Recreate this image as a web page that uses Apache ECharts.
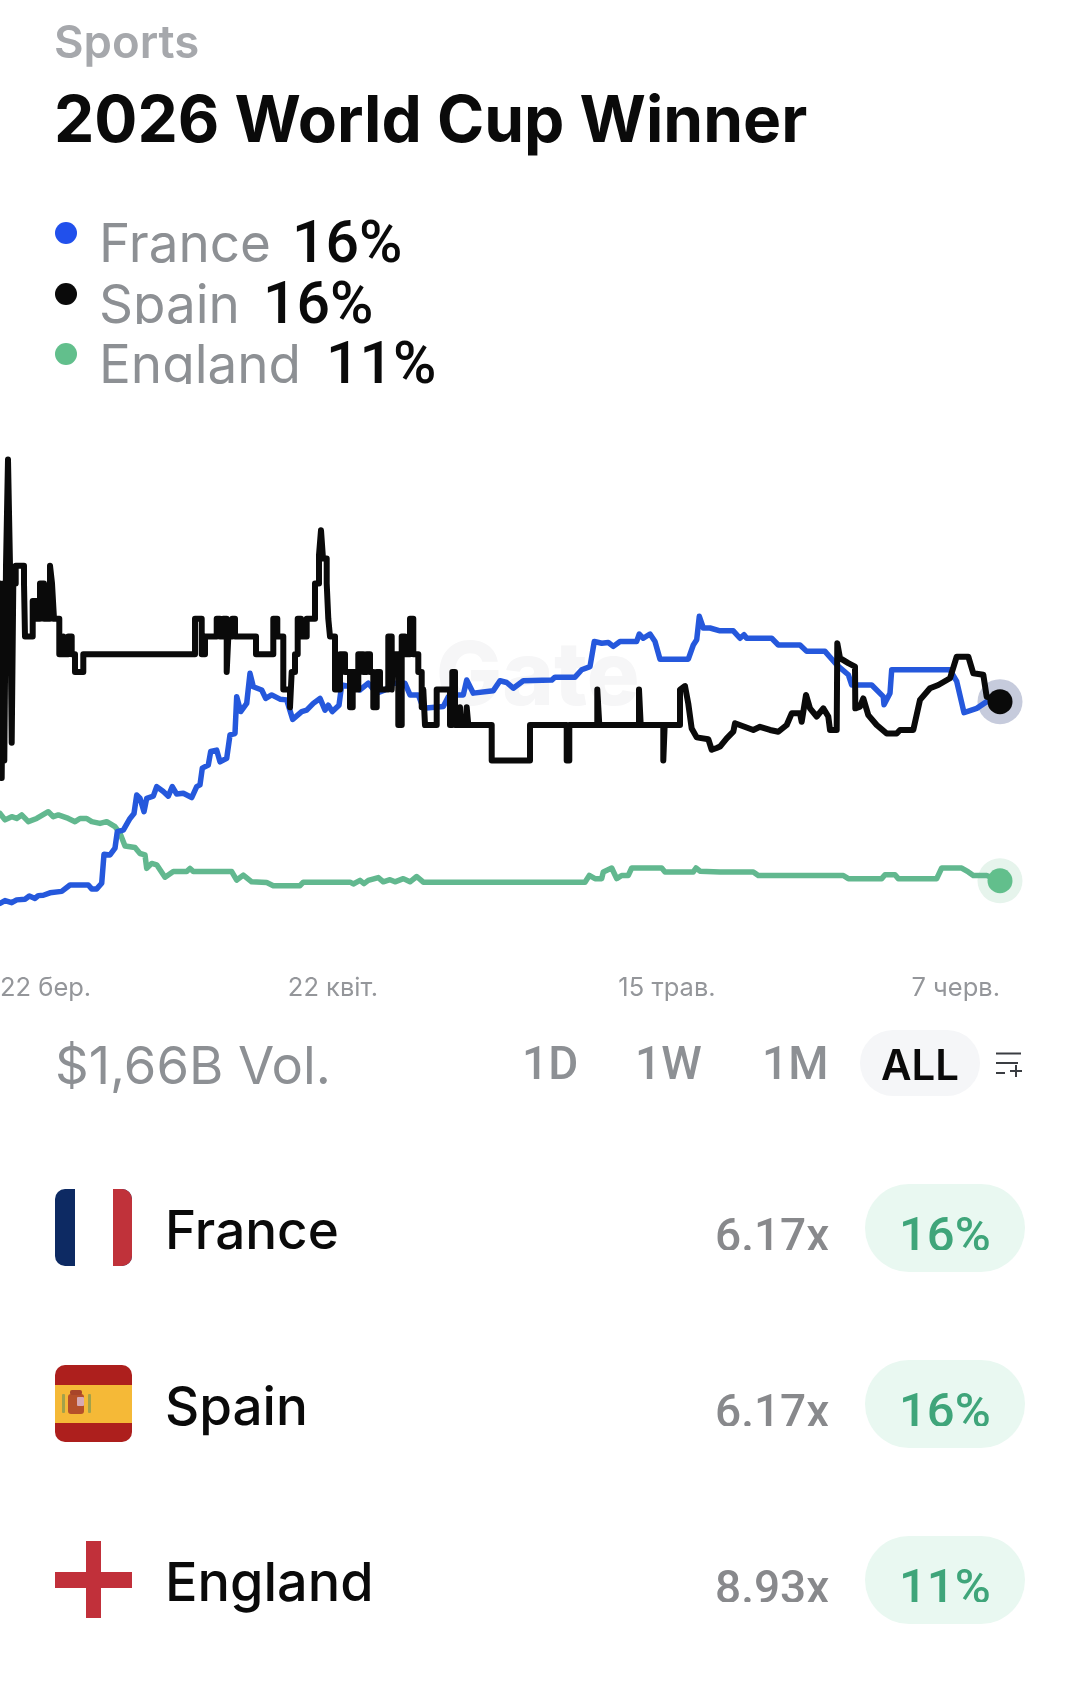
<!DOCTYPE html>
<html><head><meta charset="utf-8">
<style>html,body{margin:0;padding:0;background:#fff}#c{width:1080px;height:1695px}</style>
<script src="https://cdn.jsdelivr.net/npm/echarts@6/dist/echarts.min.js"></script>
</head><body><div id="c"></div>
<script>
// x = position along the timeline (0-100), y = implied probability (%)
const tickPositions = [0, 33.3, 66.7, 100];
const tickLabels = ['22 бер.', '22 квіт.', '15 трав.', '7 черв.'];

const franceValues = [[0,9.96],[.5,10.04],[1.17,9.98],[1.67,10.06],[2.5,10.08],[2.93,10.17],[3.5,10.1],[3.83,10.18],[4.33,10.19],[5,10.26],[6.17,10.3],[7,10.48],[8.83,10.48],[9.17,10.37],[9.67,10.37],[10.17,10.53],[10.4,11.35],[11,11.33],[11.5,11.52],[11.73,11.99],[12.33,12.03],[13,12.36],[13.4,12.5],[13.67,13.02],[14,12.93],[14.4,12.55],[14.67,12.93],[15.33,12.99],[15.67,13.26],[16.33,13.12],[16.83,12.99],[17.23,13.26],[17.67,13.05],[18.33,13.07],[19.17,12.95],[19.67,13.26],[20,13.31],[20.23,13.78],[20.83,13.87],[21.07,14.25],[21.67,14.29],[22,13.96],[22.67,14.06],[23,14.72],[23.5,14.76],[23.67,15.8],[24.07,15.38],[24.67,15.61],[25,16.46],[25.33,16.08],[26.17,15.99],[26.57,15.75],[27.17,15.85],[28,15.73],[28.67,15.71],[29.27,15.16],[30.17,15.38],[30.67,15.42],[31.33,15.61],[32,15.75],[32.5,15.42],[32.83,15.56],[33.23,15.38],[33.9,15.56],[34.17,16.13],[34.67,16.1],[35.83,16.08],[36,15.99],[36.83,16.18],[37.67,15.9],[38.5,15.99],[39.33,16.18],[40.5,16.18],[41,15.85],[41.83,15.85],[42.33,15.47],[44.33,15.52],[44.83,15.8],[45.67,15.85],[46.33,15.85],[46.67,16.27],[47.33,15.9],[49.33,15.97],[50,16.25],[50.67,16.2],[51.33,16.04],[52.33,16.25],[55.17,16.27],[55.5,16.35],[57.5,16.35],[58.17,16.56],[59,16.65],[59.43,17.36],[60.17,17.31],[60.83,17.33],[61.33,17.22],[62,17.36],[63.67,17.36],[63.93,17.57],[64.33,17.45],[65,17.57],[65.5,17.36],[66,16.86],[68.83,16.86],[69.33,17.26],[69.67,17.41],[69.93,18.07],[70.33,17.74],[71,17.74],[72,17.66],[73.33,17.66],[74,17.45],[74.4,17.55],[74.67,17.45],[77.17,17.45],[77.83,17.26],[80,17.26],[80.67,17.08],[82.5,17.08],[83.67,16.7],[84.83,16.42],[85.17,16.13],[87.17,16.13],[88.33,15.8],[88.4,15.57],[89,15.9],[89.17,16.56],[95,16.56],[95.67,16.23],[96.4,15.35],[97.67,15.47],[98.67,15.66],[100,15.66]];

// Spain trades in half-point steps at first: each pair is [position where the level starts, level]
const spainSteps = [[0,19],[.17,13.5],[.33,19],[.43,14],[.6,19.5],[.8,22.5],[1,19.5],[1.17,14.5],[1.33,19],[1.57,19.5],[2.4,19],[2.5,17.5],[3.27,18.5],[3.67,18],[4,19],[4.4,18],[5,19.5],[5.2,19],[5.4,18],[5.93,17],[6.33,17.5],[6.5,17],[6.83,17.5],[7.17,17],[7.5,16.5],[8.33,17],[19.5,18],[20.17,17],[20.5,17.5],[21.67,18],[22,17.5],[22.33,18],[22.67,16.5],[22.83,17.5],[23.23,18],[23.5,17.5],[25.6,17],[27.33,18],[27.73,17.5],[28.33,16],[29,15.5],[29.17,16.5],[29.5,17],[29.77,18],[30.1,17.5],[30.67,18],[31.5,19],[31.9,19.8],[32.1,20.5],[32.3,19.7],[32.67,19],[32.83,18],[33,17.5],[33.5,16],[34,17],[34.5,16.5],[35,15.5],[35.27,16.5],[35.5,16],[35.83,17],[36.33,16.5],[36.67,17],[37,16.5],[37.33,15.5],[37.67,16.5],[38,16],[38.83,17.5],[39.17,16],[39.33,17],[39.83,15],[40.17,17.5],[40.5,17],[41,18],[41.33,17],[41.83,16.5],[42.17,15.5],[42.33,16],[42.5,15],[43.67,16],[45,15],[45.23,16.5],[45.5,15],[46,15.5],[46.17,15],[46.67,15.5],[46.83,15],[49.17,14],[53,15],[56.67,14],[56.93,15],[59.73,16],[59.93,15],[63.9,16],[64.07,15],[66.33,14],[66.47,15],[68,15.0]];
const spainTail = [[68,16],[68.5,16.1],[68.83,15.6],[69.17,14.9],[69.67,14.65],[70.83,14.6],[71.17,14.3],[71.67,14.35],[72,14.39],[72.67,14.62],[73.33,14.81],[73.5,15.05],[75.33,14.86],[76,14.95],[77,14.86],[77.83,14.81],[78.67,15],[79.17,15.33],[80,15.33],[80.17,15.09],[80.6,15.85],[81,15.47],[81.67,15.24],[82.33,15.47],[82.83,15.24],[83,14.86],[83.67,14.86],[83.73,17.31],[84,16.89],[84.83,16.75],[85.5,16.65],[85.53,15.47],[86,15.52],[86.33,15.75],[86.83,15.28],[87.67,15],[88.67,14.76],[89.67,14.76],[90,14.86],[91.33,14.86],[92,15.71],[93,16.04],[93.83,16.13],[95,16.32],[95.67,16.93],[96.83,16.93],[97.33,16.46],[98.33,16.42],[98.67,15.8],[100,15.66]];

const englandValues = [[0,12.5],[.5,12.32],[1.17,12.41],[1.67,12.36],[2.17,12.46],[2.83,12.27],[3.67,12.36],[4.83,12.55],[5.33,12.41],[5.83,12.46],[6.83,12.36],[7.5,12.27],[8,12.36],[8.67,12.36],[9.17,12.27],[10,12.22],[10.67,12.27],[11.5,12.13],[12,11.94],[12.5,11.58],[13.5,11.54],[14,11.37],[14.5,11.33],[14.67,10.95],[15.17,11.09],[15.67,11.05],[16.5,10.7],[17.33,10.86],[18.67,10.86],[19,10.95],[19.33,10.86],[23.17,10.86],[23.67,10.62],[24.33,10.76],[25.17,10.57],[26.67,10.55],[27.33,10.46],[30,10.46],[30.33,10.56],[35,10.56],[35.33,10.51],[36,10.61],[36.4,10.52],[36.83,10.61],[37.83,10.69],[38.33,10.57],[39,10.63],[39.5,10.57],[40.33,10.66],[41,10.57],[41.67,10.72],[42.33,10.56],[58.5,10.56],[58.93,10.75],[59.5,10.66],[60.17,10.66],[60.33,10.85],[61.17,10.96],[61.67,10.66],[62.17,10.75],[62.83,10.75],[63.17,10.96],[66.17,10.96],[66.5,10.85],[69.33,10.85],[69.6,10.96],[70,10.87],[72,10.85],[75.33,10.85],[75.83,10.75],[84.33,10.75],[84.83,10.66],[88.17,10.66],[88.5,10.77],[89.5,10.77],[89.83,10.66],[93.67,10.66],[94.17,10.96],[96.17,10.96],[96.83,10.85],[97.33,10.75],[98.67,10.75],[100,10.6]];

const spainLine = [];
spainSteps.forEach(([x, v], i) => {
  if (i) spainLine.push([x, spainSteps[i - 1][1]]);
  spainLine.push([x, v]);
});
spainLine.push(...spainTail);

const FONT = 'Inter, "Liberation Sans", sans-serif';
const NUM = 'Roboto, "Liberation Sans", sans-serif';
const WHITE = '#ffffff';
const GREY = '#8d9094';
const INK = '#0a0a0a';
// y is the text baseline
function txt(x, y, text, size, weight, fill, extra) {
  const family = (extra && extra.family) || FONT;
  const rise = family === NUM ? 0.25 : 0.28;
  return { type: 'text', z: (extra && extra.z) !== undefined ? extra.z : 10, style: { x, y: y - rise * size, text, fontFamily: family, fontSize: size, fontWeight: weight, fill, verticalAlign: 'middle' } };
}
function box(x, y, w, h, fill, r, z) {
  return { type: 'rect', z: z || 10, shape: { x, y, width: w, height: h, r: r || 0 }, style: { fill } };
}
function seg(x1, y1, x2, y2) {
  return { type: 'line', z: 10, shape: { x1, y1, x2, y2 }, style: { stroke: '#3a3d42', lineWidth: 2 } };
}
const num = { family: NUM };
const graphics = [
  txt(54, 57, 'Sports', 45.5, 600, '#a6a8ac'),
  txt(54, 141, '2026 World Cup Winner', 64, 700, INK),

  { type: 'circle', z: 10, shape: { cx: 66, cy: 233, r: 11 }, style: { fill: '#2150ec' } },
  { type: 'circle', z: 10, shape: { cx: 66, cy: 294, r: 11 }, style: { fill: INK } },
  { type: 'circle', z: 10, shape: { cx: 66, cy: 354, r: 11 }, style: { fill: '#62bf8c' } },
  txt(99, 261, 'France', 53, 400, GREY), txt(292, 262, '16%', 59, 500, INK, num),
  txt(99, 322, 'Spain', 53, 400, GREY), txt(263, 323, '16%', 59, 500, INK, num),
  box(90, 324, 170, 20, WHITE, 0, 11),
  txt(99, 382, 'England', 53, 400, GREY), txt(326, 383, '11%', 59, 500, INK, num),
  box(90, 384, 230, 20, WHITE, 0, 11),

  txt(436, 703, 'Gate', 88, 800, '#f6f6f7', { z: 0 }),

  txt(55, 1083, '$1,66B Vol.', 52.5, 400, GREY),
  txt(522, 1079, '1D', 46, 500, GREY, num),
  txt(635, 1079, '1W', 46, 500, GREY, num),
  txt(762, 1079, '1M', 46, 500, GREY, num),
  box(860, 1030, 120, 66, '#f5f6f8', 33),
  txt(881, 1079, 'ALL', 42, 600, INK),
  seg(996, 1053.5, 1021, 1053.5), seg(996, 1063, 1018, 1063), seg(996, 1073, 1005, 1073),
  seg(1010, 1071, 1022, 1071), seg(1016, 1065, 1016, 1077),

  // France flag
  box(55, 1189, 77, 77, '#0d2a63', 10),
  box(75, 1189, 38, 77, WHITE),
  box(113, 1189, 19, 77, '#c0323a', [0, 10, 10, 0], 11),
  txt(165, 1248, 'France', 53, 500, INK),

  // Spain flag
  box(55, 1365, 77, 77, '#ad1f1d', 10),
  box(55, 1385, 77, 38, '#f5b937'),
  box(68, 1394, 16, 20, '#b5502a', 3, 11),
  box(70, 1390, 12, 5, '#a8452a', 2, 11),
  box(77, 1397, 7, 9, '#d6a9b4', 1, 12),
  box(62, 1394, 3, 19, '#a3a24a', 1, 11),
  box(88, 1394, 3, 19, '#a3a24a', 1, 11),
  txt(165, 1424, 'Spain', 53, 500, INK),

  // England flag
  box(55, 1572, 77, 16, '#c1303a'),
  box(86, 1541, 15, 77, '#c1303a'),
  txt(165, 1600, 'England', 54, 500, INK)
];
[['6.17x', '16%', 1250], ['6.17x', '16%', 1426], ['8.93x', '11%', 1602]].forEach(([mult, pct, base]) => {
  graphics.push(
    box(865, base - 66, 160, 88, '#e9f8f1', 44, 9),
    txt(715, base + 1, mult, 46, 500, '#88898c', num),
    box(700, base, 150, 14, WHITE, 0, 11),
    txt(899, base + 1, pct, 49, 500, '#3fa57a', num),
    box(890, base, 110, 14, '#e9f8f1', 0, 11)
  );
});

const chart = echarts.init(document.getElementById('c'));
const lastSpain = spainTail[spainTail.length - 1];
const lastEngland = englandValues[englandValues.length - 1];
const lineSeries = (name, data, color, z, width) => ({
  type: 'line', name, data, z, showSymbol: false, smooth: false, animation: false,
  lineStyle: { color, width, cap: 'round', join: 'round' }
});
const dot = (name, point, size, color, z) => ({
  type: 'scatter', name, data: [point], symbolSize: size, z, animation: false, clip: false,
  itemStyle: { color, opacity: 1 }
});
chart.setOption({
  animation: false,
  backgroundColor: WHITE,
  grid: { left: 0, width: 1000, top: 406.4, height: 566.4, outerBoundsMode: 'none' },
  xAxis: {
    type: 'value', min: 0, max: 100,
    axisLine: { show: false }, axisTick: { show: false }, splitLine: { show: false },
    axisLabel: {
      customValues: tickPositions,
      formatter: v => tickLabels[tickPositions.indexOf(v)],
      alignMinLabel: 'left', alignMaxLabel: 'right',
      color: '#94969a', fontFamily: FONT, fontSize: 25.5, margin: 3, hideOverlap: false
    }
  },
  yAxis: { type: 'value', min: 8, max: 24, show: false, splitLine: { show: false } },
  series: [
    lineSeries('England', englandValues, '#62b88f', 3, 5.5),
    lineSeries('France', franceValues, '#2558dc', 4, 5.5),
    dot('England halo', lastEngland, 45, '#e6f4ec', 2),
    dot('Spain halo', lastSpain, 45, '#c6cbdc', 2),
    lineSeries('Spain', spainLine, INK, 5, 6),
    dot('England end', lastEngland, 25, '#62bf8c', 6),
    dot('Spain end', lastSpain, 25, INK, 6)
  ],
  graphic: graphics
});
</script></body></html>
